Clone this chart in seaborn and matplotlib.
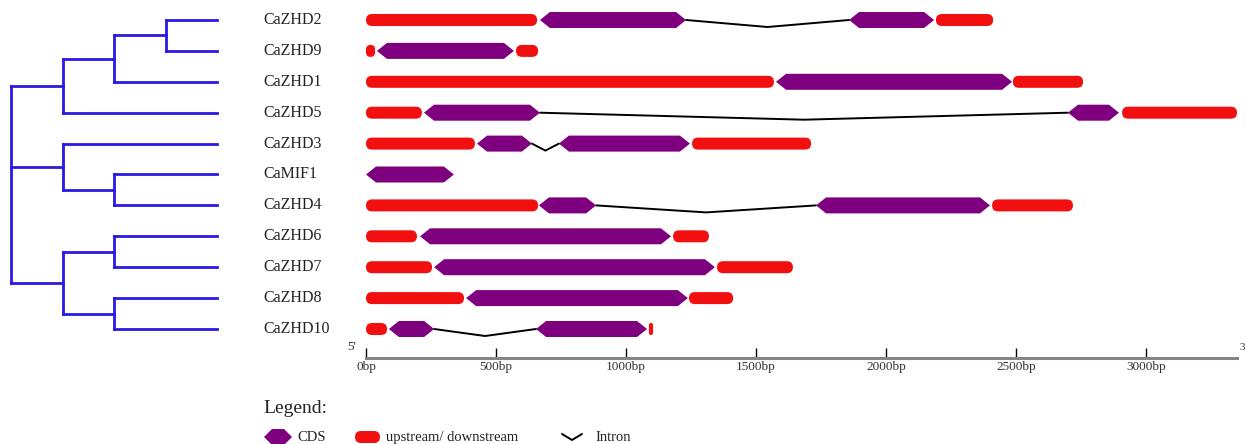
import numpy as np
import pandas as pd
import matplotlib
matplotlib.use("Agg")
import matplotlib.pyplot as plt
from matplotlib.patches import Polygon, FancyBboxPatch
import seaborn as sns

# ---- data -------------------------------------------------------------
genes = ["CaZHD2", "CaZHD9", "CaZHD1", "CaZHD5", "CaZHD3", "CaMIF1",
         "CaZHD4", "CaZHD6", "CaZHD7", "CaZHD8", "CaZHD10"]

# coding sequences (bp), one list per gene in the order above
cds_regions = [
    [(669, 1231), (1858, 2185)],
    [(42, 569)],
    [(1577, 2485)],
    [(223, 669), (2700, 2896)],
    [(427, 638), (742, 1246)],
    [(0, 338)],
    [(665, 885), (1731, 2400)],
    [(208, 1173)],
    [(262, 1342)],
    [(385, 1238)],
    [(88, 262), (654, 1081)],
]

# untranslated upstream / downstream regions (bp)
utr_regions = [
    [(0, 658), (2192, 2412)],
    [(0, 35), (577, 662)],
    [(0, 1569), (2488, 2758)],
    [(0, 215), (2908, 3350)],
    [(0, 419), (1254, 1712)],
    [],
    [(0, 662), (2408, 2719)],
    [(0, 196), (1181, 1319)],
    [(0, 254), (1350, 1642)],
    [(0, 377), (1242, 1412)],
    [(0, 81), (1088, 1104)],
]

tick_bp = [0, 500, 1000, 1500, 2000, 2500, 3000]
tick_labels = ["0bp", "500bp", "1000bp", "1500bp", "2000bp", "2500bp", "3000bp"]
scale_max_bp = 3350

# cladogram topology
tree = (((("CaZHD2", "CaZHD9"), "CaZHD1"), "CaZHD5"),
        ("CaZHD3", ("CaMIF1", "CaZHD4")),
        (("CaZHD6", "CaZHD7"), ("CaZHD8", "CaZHD10")))

# ---- style ------------------------------------------------------------
CDS_COLOR = "#7f007f"
UTR_COLOR = "#f20f0f"
TREE_COLOR = "#2a1ae8"
sns.set_theme(style="white")
plt.rcParams["font.family"] = ["Liberation Serif", "DejaVu Serif"]

W, H = 1245, 444
fig = plt.figure(figsize=(W / 100, H / 100), dpi=100)

# overlay in pixel units for the legend and strand marks
over = fig.add_axes([0, 0, 1, 1])
over.set_xlim(0, W)
over.set_ylim(H, 0)
over.axis("off")

# gene structure panel
g_left, g_right, g_top, g_bottom = 366, 1237, 0, 358
row0_px, row_step_px = 20, 30.9
y_top = (g_top - row0_px) / row_step_px
y_bot = (g_bottom - row0_px) / row_step_px
ax = fig.add_axes([g_left / W, 1 - g_bottom / H,
                   (g_right - g_left) / W, (g_bottom - g_top) / H])
ax.set_facecolor("none")

bp_per_px = scale_max_bp / (g_right - g_left)
rows_per_px = (y_bot - y_top) / (g_bottom - g_top)
aspect = rows_per_px / bp_per_px

cds_h = 16 * rows_per_px
utr_h = 12 * rows_per_px
tip_bp = 10 * bp_per_px
corner_bp = 6 * bp_per_px
intron_drop = 7 * rows_per_px


def hexagon(axis, x0, x1, y, h, t, **kw):
    t = min(t, (x1 - x0) / 2)
    pts = [(x0, y), (x0 + t, y - h / 2), (x1 - t, y - h / 2),
           (x1, y), (x1 - t, y + h / 2), (x0 + t, y + h / 2)]
    axis.add_patch(Polygon(pts, closed=True, lw=0, **kw))


def rounded(axis, x0, x1, y, h, r, asp, **kw):
    w = x1 - x0
    r = min(r, w / 2, h / asp / 2)
    axis.add_patch(FancyBboxPatch((x0, y - h / 2), w, h,
                                  boxstyle=f"round,pad=0,rounding_size={r}",
                                  mutation_aspect=asp, lw=0, **kw))


intron_rows = []
for i, (cds, utr) in enumerate(zip(cds_regions, utr_regions)):
    for s, e in utr:
        rounded(ax, s, e, i, utr_h, corner_bp, aspect, color=UTR_COLOR,
                clip_on=False, zorder=3)
    for s, e in cds:
        hexagon(ax, s, e, i, cds_h, tip_bp, color=CDS_COLOR,
                clip_on=False, zorder=3)
    for k, ((_, e0), (s1, _)) in enumerate(zip(cds[:-1], cds[1:])):
        uid = f"{genes[i]}_{k}"
        intron_rows += [(uid, e0, i), (uid, (e0 + s1) / 2, i + intron_drop),
                        (uid, s1, i)]

introns = pd.DataFrame(intron_rows, columns=["intron", "bp", "row"])
sns.lineplot(data=introns, x="bp", y="row", units="intron", estimator=None,
             sort=False, color="black", lw=1.4, ax=ax, legend=False, zorder=2)

ax.set_xlim(0, scale_max_bp)
ax.set_ylim(y_bot, y_top)
ax.set_xlabel("")
ax.set_ylabel("")
ax.set_yticks([])
ax.set_xticks(tick_bp)
ax.set_xticklabels(tick_labels)
for side in ("top", "right", "left"):
    ax.spines[side].set_visible(False)
ax.spines["bottom"].set_color("#858585")
ax.spines["bottom"].set_linewidth(2.2)
ax.tick_params(axis="x", direction="in", length=7, width=1, color="black",
               pad=2, labelsize=9.5, labelcolor="#333333", bottom=True)

# gene names
label_x = (263 - g_left) / (g_right - g_left)
for i, name in enumerate(genes):
    ax.text(label_x, i, name, transform=ax.get_yaxis_transform(),
            ha="left", va="center", fontsize=11.5, color="#222222",
            clip_on=False)

# ---- cladogram ----------------------------------------------------------
t_right = 230
root_px, level_px = 11, 51.5
tax = fig.add_axes([0, 1 - g_bottom / H, t_right / W, (g_bottom - g_top) / H])
tax.set_facecolor("none")


def depth(node):
    return 0 if isinstance(node, str) else 1 + max(depth(c) for c in node)


tip_depth = depth(tree)
edges = []


def layout(node, d):
    if isinstance(node, str):
        return genes.index(node)
    ys = []
    for c in node:
        yc = layout(c, d + 1)
        xc = tip_depth if isinstance(c, str) else d + 1
        edges.append([(d, yc), (xc, yc)])
        ys.append(yc)
    edges.append([(d, min(ys)), (d, max(ys))])
    return (min(ys) + max(ys)) / 2


layout(tree, 0)
tree_rows = []
for k, seg in enumerate(edges):
    for x, y in seg:
        tree_rows.append((k, x, y))
branches = pd.DataFrame(tree_rows, columns=["edge", "x", "y"])
sns.lineplot(data=branches, x="x", y="y", units="edge", estimator=None,
             sort=False, color=TREE_COLOR, lw=2.0, ax=tax, legend=False,
             solid_capstyle="projecting")
tax.set_xlim(-root_px / level_px, (t_right - root_px) / level_px)
tax.set_ylim(y_bot, y_top)
tax.axis("off")

# ---- strand marks and legend -------------------------------------------
over.text(352, 347, "5'", ha="center", va="center", fontsize=9.5, color="#333333")
over.text(1239, 347, "3'", ha="left", va="center", fontsize=8, color="#333333")

over.text(263, 408, "Legend:", ha="left", va="center", fontsize=14, color="#222222")
ly = 437
hexagon(over, 264, 292, ly, 16, 8, color=CDS_COLOR)
over.text(297, ly, "CDS", ha="left", va="center", fontsize=10.5, color="#222222")
rounded(over, 355, 380, ly, 12, 6, 1.0, color=UTR_COLOR)
over.text(386, ly, "upstream/ downstream", ha="left", va="center",
          fontsize=10.5, color="#222222")
over.plot([562, 572, 582], [434, 440, 434], color="black", lw=1.4)
over.text(595, ly, "Intron", ha="left", va="center", fontsize=10.5, color="#222222")

fig.savefig("out.png", dpi=100)
